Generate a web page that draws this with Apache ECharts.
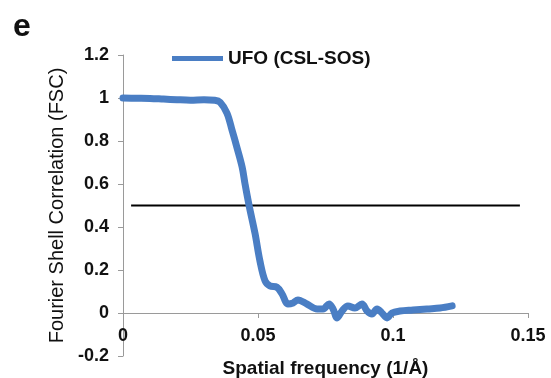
<!DOCTYPE html>
<html>
<head>
<meta charset="utf-8">
<script src="https://cdn.jsdelivr.net/npm/echarts@6/dist/echarts.min.js"></script>
<style>
  html, body { margin: 0; padding: 0; background: #fff; }
  #chart { width: 551px; height: 378px; }
</style>
</head>
<body>
<div id="chart"></div>
<script>
// FSC curve: spatial frequency (1/Å) and correlation
const frequency = [0, 0.005, 0.01, 0.015, 0.02, 0.025, 0.03, 0.034, 0.036, 0.0385, 0.0404, 0.0422, 0.0441, 0.0452,
  0.0467, 0.0489, 0.0507, 0.0526, 0.0544, 0.057, 0.0589, 0.0611, 0.063, 0.0648, 0.0681, 0.0719, 0.0741, 0.0763,
  0.0778, 0.0793, 0.0811, 0.0833, 0.0859, 0.0885, 0.0904, 0.0922, 0.0941, 0.0959, 0.0978, 0.0996, 0.1026,
  0.1074, 0.1126, 0.1174, 0.1219];
const fsc = [1.0, 0.999, 0.998, 0.995, 0.992, 0.99, 0.992, 0.99, 0.98, 0.93, 0.85, 0.77, 0.68, 0.60,
  0.50, 0.37, 0.243, 0.15, 0.126, 0.12, 0.089, 0.042, 0.047, 0.061, 0.042, 0.019, 0.019, 0.042,
  0.019, -0.023, 0.009, 0.033, 0.023, 0.042, 0.009, -0.005, 0.019, 0, -0.023, 0, 0.009,
  0.014, 0.019, 0.023, 0.033];

// 0.5 threshold line
const thresholdX = [0.003, 0.147];
const thresholdY = 0.5;

const xTicks = ['0', '0.05', '0.1', '0.15'];
const yTicks = ['-0.2', '0', '0.2', '0.4', '0.6', '0.8', '1', '1.2'];

const seriesName = 'UFO (CSL-SOS)';
const panelLabel = 'e';

const font = '"Liberation Sans", Arial, sans-serif';

// plot box
const gridTop = 55, gridBottom = 22;
const chartHeight = 378;
const yMin = -0.2, yMax = 1.2;
const plotHeight = chartHeight - gridTop - gridBottom;
// the x axis sits on y = 0, lifted from the bottom edge of the plot box
const zeroLift = plotHeight * (0 - yMin) / (yMax - yMin);

const chart = echarts.init(document.getElementById('chart'), null, { renderer: 'canvas' });

chart.setOption({
  animation: false,
  backgroundColor: '#ffffff',
  grid: { left: 123, right: 23, top: gridTop, bottom: gridBottom, containLabel: false, outerBoundsMode: 'none' },
  title: {
    text: panelLabel,
    left: 8, top: 6,
    textStyle: { fontFamily: font, fontWeight: 'bold', fontSize: 32, color: '#111' }
  },
  legend: {
    data: [{ name: seriesName, icon: 'rect' }],
    left: 167, top: 44,
    itemWidth: 51, itemHeight: 5, itemGap: 8,
    textStyle: { fontFamily: font, fontWeight: 'bold', fontSize: 19, color: '#111' }
  },
  xAxis: {
    type: 'value',
    min: 0, max: 0.15, interval: 0.05,
    offset: -zeroLift,
    name: 'Spatial frequency (1/Å)',
    nameLocation: 'middle',
    nameGap: 46,
    nameMoveOverlap: false,
    nameTextStyle: { fontFamily: font, fontWeight: 'bold', fontSize: 19, color: '#111' },
    axisLine: { onZero: false, lineStyle: { color: '#9a9a9a', width: 1 } },
    axisTick: { show: true, inside: false, length: 5, lineStyle: { color: '#9a9a9a' } },
    axisLabel: {
      fontFamily: font, fontWeight: 'bold', fontSize: 18, color: '#111', margin: 14,
      formatter: (v) => xTicks[Math.round(v / 0.05)]
    },
    splitLine: { show: false }
  },
  yAxis: {
    type: 'value',
    min: yMin, max: yMax, interval: 0.2,
    name: 'Fourier Shell Correlation (FSC)',
    nameLocation: 'middle',
    nameGap: 53,
    nameTextStyle: { fontFamily: font, fontSize: 20, color: '#111' },
    axisLine: { show: true, onZero: false, lineStyle: { color: '#9a9a9a', width: 1 } },
    axisTick: { show: true, inside: false, length: 5, lineStyle: { color: '#9a9a9a' } },
    axisLabel: {
      fontFamily: font, fontWeight: 'bold', fontSize: 18, color: '#111', margin: 14,
      formatter: (v) => yTicks[Math.round((v - yMin) / 0.2)]
    },
    splitLine: { show: false }
  },
  series: [
    {
      name: 'threshold',
      type: 'line',
      data: thresholdX.map((x) => [x, thresholdY]),
      symbol: 'none',
      lineStyle: { color: '#000', width: 2 },
      silent: true,
      z: 1
    },
    {
      name: seriesName,
      type: 'line',
      data: frequency.map((x, i) => [x, fsc[i]]),
      symbol: 'none',
      smooth: 0.35,
      itemStyle: { color: '#4a7ec4' },
      lineStyle: { color: '#4a7ec4', width: 7, cap: 'round', join: 'round' },
      z: 2
    }
  ]
});
</script>
</body>
</html>
